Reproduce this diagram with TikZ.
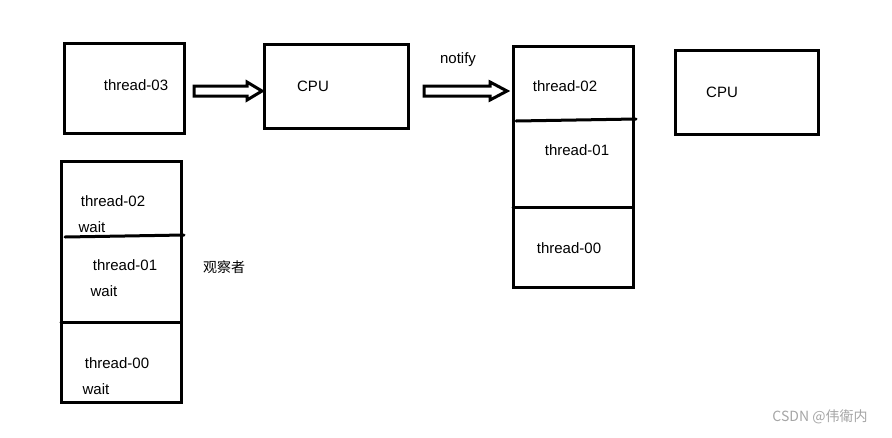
\documentclass[tikz,border=0pt]{standalone}
\usepackage{fontspec}
\setmainfont{Liberation Sans}
\newfontfamily\cjk{Noto Sans CJK SC}
\begin{document}
\begin{tikzpicture}[x=1pt,y=-1pt,
  box/.style={draw,line width=3pt},
  lbl/.style={font=\fontsize{15}{18}\selectfont,inner sep=0pt},
  sep/.style={line width=3pt,line cap=round}]
\useasboundingbox (0,0) rectangle (892,437);
\fill[white] (0,0) rectangle (892,437);
% top row
\draw[box] (64,43) rectangle (184,133);
\node[lbl] (t03) at (136,85) {thread-03};
\draw[box] (264,44) rectangle (408,128);
\node[lbl] (cpu1) at (313,86) {CPU};
\draw[line width=3pt,line join=miter] (194,86)--(247,86)--(247,82)--(262,91)--(247,100)--(247,96)--(194,96)--cycle;
\draw[line width=3pt,line join=miter] (424,86)--(490,86)--(490,82)--(507,91)--(490,100)--(490,96)--(424,96)--cycle;
\node[lbl] (notify) at (458,60) {notify};
\draw[box] (675,50) rectangle (818,134);
\node[lbl] (cpu2) at (722,92) {CPU};
% right stack
\draw[box] (513,46) rectangle (633,287);
\draw[sep] (516,121)--(636,119);
\draw[sep] (513,207)--(633,207);
\node[lbl] (r02) at (565,86) {thread-02};
\node[lbl] (r01) at (577,150) {thread-01};
\node[lbl] (r00) at (569,248) {thread-00};
% left stack
\draw[box] (61,161) rectangle (181,402);
\draw[sep] (65,237)--(184,235);
\draw[sep] (61,322)--(181,322);
\node[lbl] (l02) at (113,201) {thread-02};
\node[lbl] (w2) at (92,227) {wait};
\node[lbl] (l01) at (125,265) {thread-01};
\node[lbl] (w1) at (104,291) {wait};
\node[lbl] (l00) at (117,363) {thread-00};
\node[lbl] (w0) at (96,389) {wait};
\node[lbl,font=\cjk\fontsize{14}{17}\selectfont] (obs) at (224,267) {观察者};
\node[lbl,text=gray!70,font=\cjk\fontsize{14}{17}\selectfont] (wm) at (820,417) {CSDN @伟衛内};
\end{tikzpicture}
\end{document}
